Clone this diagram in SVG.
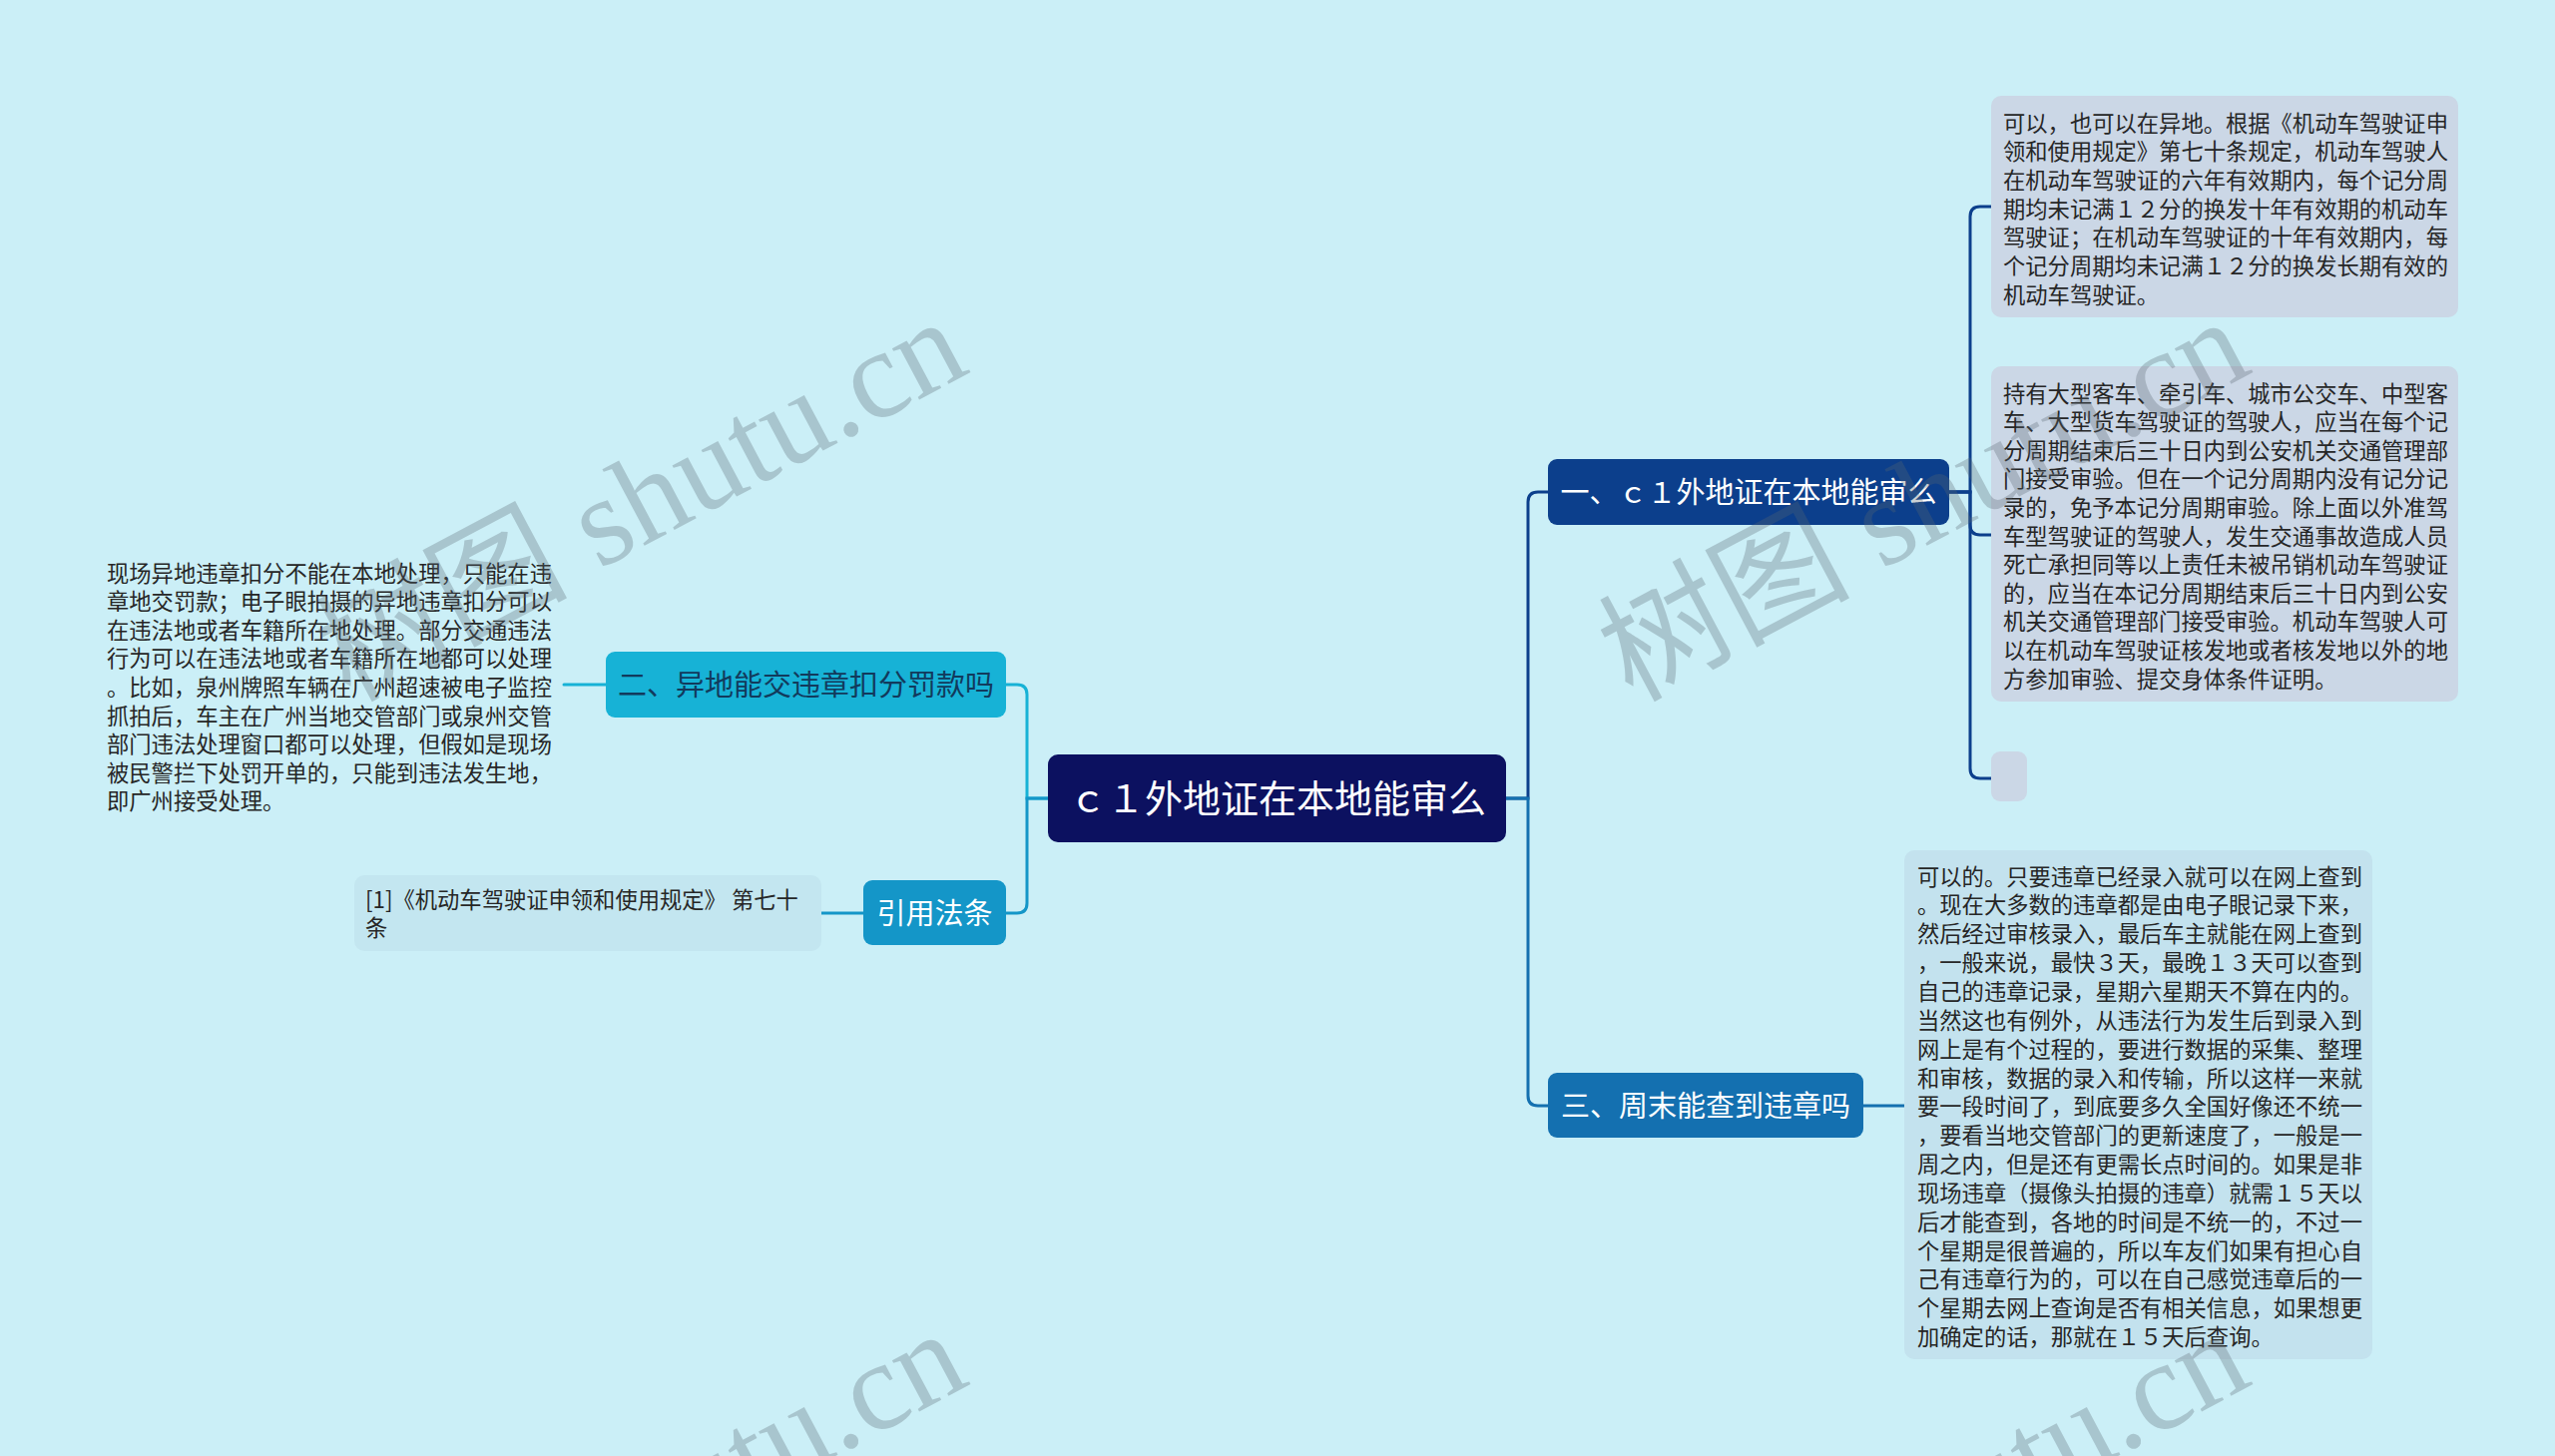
<svg xmlns="http://www.w3.org/2000/svg" width="2560" height="1459" viewBox="0 0 2560 1459">
<style>
.t{font-family:"Noto Sans CJK SC","Liberation Sans",sans-serif}
.leaf{font-size:22.3px;fill:#262626}
.br{font-size:29px;text-anchor:middle}
.w{fill:#fff}
.c{fill:none;stroke-width:3;stroke-linecap:round}
.wm{font-family:"Liberation Serif","Noto Sans CJK SC",serif;font-size:126px;fill:#5a6771;opacity:0.3}
</style>
<rect width="2560" height="1459" fill="#cbeff7"/>
<g id="connectors">
<path class="c" stroke="#0c3f8c" d="M1509,800 H1531 V503 Q1531,493 1541,493 H1551"/>
<path class="c" stroke="#1470b0" d="M1509,800 H1531 V1098 Q1531,1108 1541,1108 H1551"/>
<path class="c" stroke="#0c3f8c" d="M1953,493 H1974 V217 Q1974,207 1984,207 H1995"/>
<path class="c" stroke="#0c3f8c" d="M1953,493 H1974 V526 Q1974,536 1984,536 H1995"/>
<path class="c" stroke="#0c3f8c" d="M1953,493 H1974 V770 Q1974,780 1984,780 H1995"/>
<path class="c" stroke="#1470b0" d="M1866,1108 H1909"/>
<path class="c" stroke="#17b2d6" d="M1050,800 H1029 V696 Q1029,686 1019,686 H1008"/>
<path class="c" stroke="#1496c8" d="M1050,800 H1029 V905 Q1029,915 1019,915 H1008"/>
<path class="c" stroke="#17b2d6" d="M607,686 H565"/>
<path class="c" stroke="#1496c8" d="M865,915 H823"/>
</g>
<g id="root">
<rect x="1050" y="756" width="459" height="88" rx="10" fill="#0c1160"/>
<text class="t w" x="1280" y="814" font-size="38" text-anchor="middle">ｃ１外地证在本地能审么</text>
</g>
<g id="branch1">
<rect x="1551" y="460" width="402" height="66" rx="9" fill="#0c3f8c"/>
<text class="t br w" x="1752" y="504">一、ｃ１外地证在本地能审么</text>
</g>
<g id="branch2">
<rect x="607" y="653" width="401" height="66" rx="9" fill="#17b2d6"/>
<text class="t br" x="807.5" y="697" fill="#123a5c">二、异地能交违章扣分罚款吗</text>
</g>
<g id="branch3">
<rect x="1551" y="1075" width="316" height="65" rx="9" fill="#1470b0"/>
<text class="t br w" x="1709" y="1119">三、周末能查到违章吗</text>
</g>
<g id="cite">
<rect x="865" y="882" width="143" height="65" rx="9" fill="#1496c8"/>
<text class="t br w" x="936.5" y="926">引用法条</text>
</g>
<g id="leaf1">
<rect x="1995" y="96" width="468" height="222" rx="10" fill="#cbd7e6"/>
<text class="t leaf">
<tspan x="2007" y="131.5">可以，也可以在异地。根据《机动车驾驶证申</tspan>
<tspan x="2007" y="160.2">领和使用规定》第七十条规定，机动车驾驶人</tspan>
<tspan x="2007" y="188.9">在机动车驾驶证的六年有效期内，每个记分周</tspan>
<tspan x="2007" y="217.6">期均未记满１２分的换发十年有效期的机动车</tspan>
<tspan x="2007" y="246.3">驾驶证；在机动车驾驶证的十年有效期内，每</tspan>
<tspan x="2007" y="275">个记分周期均未记满１２分的换发长期有效的</tspan>
<tspan x="2007" y="303.7">机动车驾驶证。</tspan>
</text>
</g>
<g id="leaf2">
<rect x="1995" y="367" width="468" height="336" rx="10" fill="#cbd7e6"/>
<text class="t leaf">
<tspan x="2007" y="402.5">持有大型客车、牵引车、城市公交车、中型客</tspan>
<tspan x="2007" y="431.1">车、大型货车驾驶证的驾驶人，应当在每个记</tspan>
<tspan x="2007" y="459.7">分周期结束后三十日内到公安机关交通管理部</tspan>
<tspan x="2007" y="488.3">门接受审验。但在一个记分周期内没有记分记</tspan>
<tspan x="2007" y="516.9">录的，免予本记分周期审验。除上面以外准驾</tspan>
<tspan x="2007" y="545.5">车型驾驶证的驾驶人，发生交通事故造成人员</tspan>
<tspan x="2007" y="574.1">死亡承担同等以上责任未被吊销机动车驾驶证</tspan>
<tspan x="2007" y="602.7">的，应当在本记分周期结束后三十日内到公安</tspan>
<tspan x="2007" y="631.3">机关交通管理部门接受审验。机动车驾驶人可</tspan>
<tspan x="2007" y="659.9">以在机动车驾驶证核发地或者核发地以外的地</tspan>
<tspan x="2007" y="688.5">方参加审验、提交身体条件证明。</tspan>
</text>
</g>
<g id="leaf3">
<rect x="1995" y="753" width="36" height="50" rx="9" fill="#cbd7e6"/>
</g>
<g id="leaf4">
<rect x="1908" y="852" width="469" height="510" rx="10" fill="#c3e2ee"/>
<text class="t leaf">
<tspan x="1921" y="886.5">可以的。只要违章已经录入就可以在网上查到</tspan>
<tspan x="1921" y="915.4">。现在大多数的违章都是由电子眼记录下来，</tspan>
<tspan x="1921" y="944.2">然后经过审核录入，最后车主就能在网上查到</tspan>
<tspan x="1921" y="973.1">，一般来说，最快３天，最晚１３天可以查到</tspan>
<tspan x="1921" y="1001.9">自己的违章记录，星期六星期天不算在内的。</tspan>
<tspan x="1921" y="1030.8">当然这也有例外，从违法行为发生后到录入到</tspan>
<tspan x="1921" y="1059.6">网上是有个过程的，要进行数据的采集、整理</tspan>
<tspan x="1921" y="1088.5">和审核，数据的录入和传输，所以这样一来就</tspan>
<tspan x="1921" y="1117.3">要一段时间了，到底要多久全国好像还不统一</tspan>
<tspan x="1921" y="1146.2">，要看当地交管部门的更新速度了，一般是一</tspan>
<tspan x="1921" y="1175">周之内，但是还有更需长点时间的。如果是非</tspan>
<tspan x="1921" y="1203.9">现场违章（摄像头拍摄的违章）就需１５天以</tspan>
<tspan x="1921" y="1232.7">后才能查到，各地的时间是不统一的，不过一</tspan>
<tspan x="1921" y="1261.6">个星期是很普遍的，所以车友们如果有担心自</tspan>
<tspan x="1921" y="1290.4">己有违章行为的，可以在自己感觉违章后的一</tspan>
<tspan x="1921" y="1319.3">个星期去网上查询是否有相关信息，如果想更</tspan>
<tspan x="1921" y="1348.1">加确定的话，那就在１５天后查询。</tspan>
</text>
</g>
<g id="leaf-left">
<text class="t leaf">
<tspan x="107" y="582.5">现场异地违章扣分不能在本地处理，只能在违</tspan>
<tspan x="107" y="611.1">章地交罚款；电子眼拍摄的异地违章扣分可以</tspan>
<tspan x="107" y="639.7">在违法地或者车籍所在地处理。部分交通违法</tspan>
<tspan x="107" y="668.3">行为可以在违法地或者车籍所在地都可以处理</tspan>
<tspan x="107" y="696.9">。比如，泉州牌照车辆在广州超速被电子监控</tspan>
<tspan x="107" y="725.5">抓拍后，车主在广州当地交管部门或泉州交管</tspan>
<tspan x="107" y="754.1">部门违法处理窗口都可以处理，但假如是现场</tspan>
<tspan x="107" y="782.7">被民警拦下处罚开单的，只能到违法发生地，</tspan>
<tspan x="107" y="811.3">即广州接受处理。</tspan>
</text>
</g>
<g id="leaf-cite">
<rect x="355" y="877" width="468" height="76" rx="10" fill="#c3e6f0"/>
<text class="t leaf">
<tspan x="366" y="909.5">[1]《机动车驾驶证申领和使用规定》 第七十</tspan>
<tspan x="366" y="938">条</tspan>
</text>
</g>
<g id="watermark">
<text class="wm" transform="translate(350,704) rotate(-28)">树图 shutu.cn</text>
<text class="wm" transform="translate(1635,704) rotate(-28)">树图 shutu.cn</text>
<text class="wm" transform="translate(350,1718) rotate(-28)">树图 shutu.cn</text>
<text class="wm" transform="translate(1635,1718) rotate(-28)">树图 shutu.cn</text>
</g>
</svg>
